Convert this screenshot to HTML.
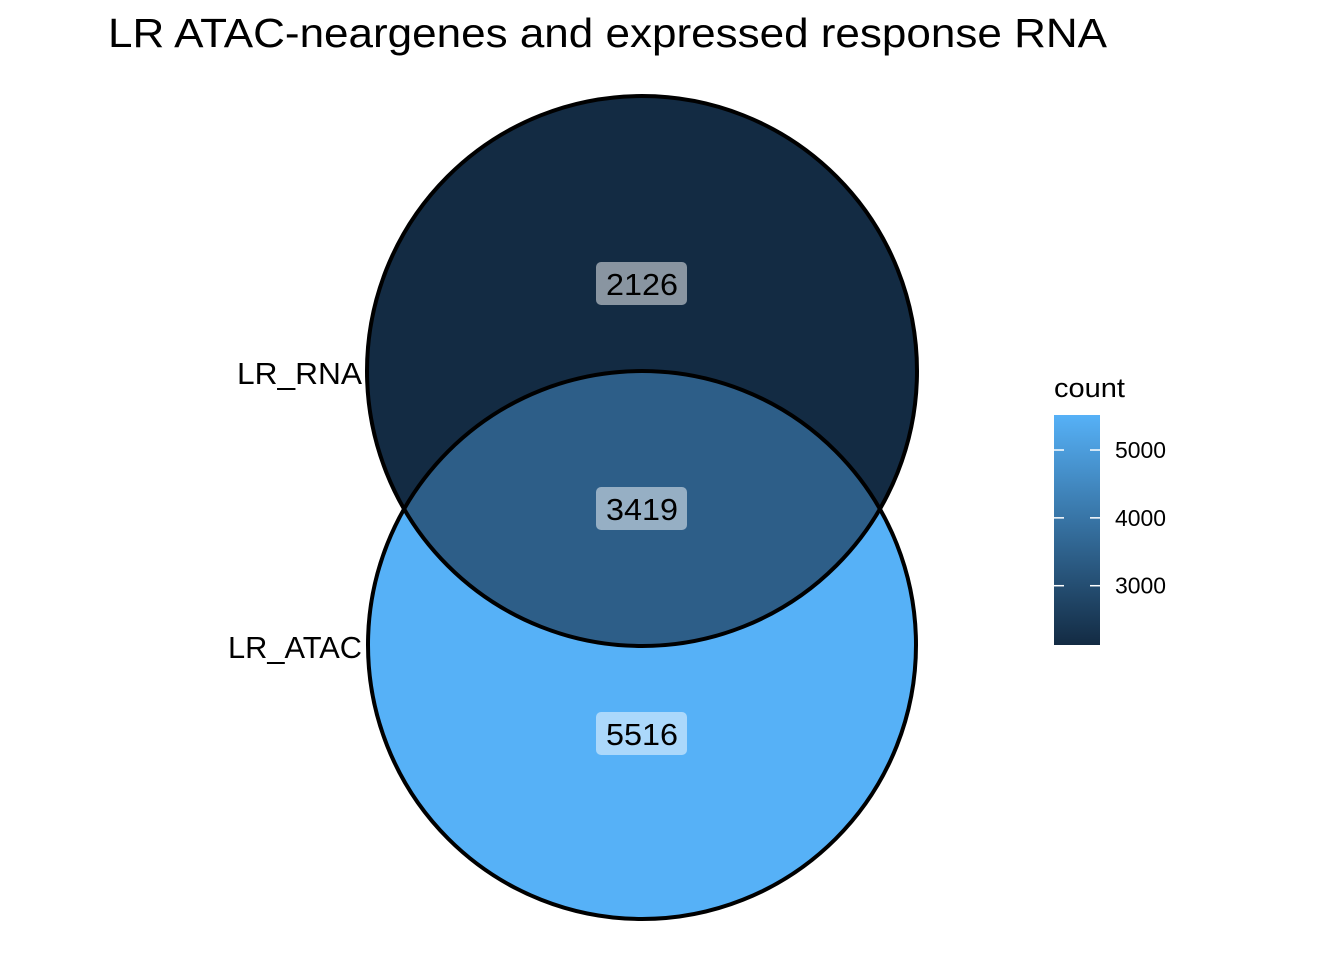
<!DOCTYPE html>
<html><head><meta charset="utf-8"><style>
body{margin:0;background:#fff}
svg{display:block;font-family:"Liberation Sans",Arial,sans-serif}
</style></head><body>
<svg id="chart" width="1344" height="960" viewBox="0 0 1344 960">
<defs>
<linearGradient id="grad" x1="0" y1="1" x2="0" y2="0">
<stop offset="0" stop-color="#132B43"/><stop offset="1" stop-color="#56B1F7"/>
</linearGradient>
</defs>
<text x="108" y="47" font-size="41" textLength="999" lengthAdjust="spacingAndGlyphs" fill="#000">LR ATAC-neargenes and expressed response RNA</text>
<g id="venn"></g>
<g id="legend">
<text x="1054" y="397" font-size="27" textLength="71" lengthAdjust="spacingAndGlyphs">count</text>
<rect x="1054" y="415" width="46" height="230" fill="url(#grad)"/>
<g id="ticks"></g>
</g>
</svg>
<script>
const sets = ['LR_RNA','LR_ATAC'];
const regionNames = ['RNA-only','both','ATAC-only'];
const counts = [2126, 3419, 5516];
const legendTicks = [3000, 4000, 5000];

const NS='http://www.w3.org/2000/svg';
const minC=Math.min(...counts), maxC=Math.max(...counts);
function col(v){const t=(v-minC)/(maxC-minC);const a=[19,43,67],b=[86,177,247];
return 'rgb('+a.map((x,i)=>Math.round(x+t*(b[i]-x))).join(',')+')';}
function mk(tag,attrs,parent){const e=document.createElementNS(NS,tag);for(const k in attrs)e.setAttribute(k,attrs[k]);parent.appendChild(e);return e;}
const venn=document.getElementById('venn');
const c1={x:642,y:371,r:275}, c2={x:642,y:645,r:274};
const defs=document.querySelector('defs');
const cp=mk('clipPath',{id:'clipTop'},defs);mk('circle',{cx:c1.x,cy:c1.y,r:c1.r},cp);
let e;
e=mk('circle',{cx:c1.x,cy:c1.y,r:c1.r,fill:col(counts[0])},venn);


e=mk('circle',{cx:c2.x,cy:c2.y,r:c2.r,fill:col(counts[2])},venn);


e=mk('circle',{cx:c2.x,cy:c2.y,r:c2.r,fill:col(counts[1]),'clip-path':'url(#clipTop)'},venn);


[c1,c2].forEach((c,i)=>{const s=mk('circle',{cx:c.x,cy:c.y,r:c.r,fill:'none',stroke:'#000','stroke-width':4},venn);

});
const labY=[284,509,734];
counts.forEach((v,i)=>{
 const r=mk('rect',{x:596,y:labY[i]-22,width:91,height:43,rx:5,fill:'rgba(255,255,255,0.5)'},venn);
 
 
 const t=mk('text',{x:642,y:labY[i]+11,'font-size':31,'text-anchor':'middle',textLength:72,lengthAdjust:'spacingAndGlyphs'},venn);t.textContent=v;
 
 
});
const setY=[384,658];
const setW=[125,134];
sets.forEach((s,i)=>{const t=mk('text',{x:237-(setW[i]-125)+ (i?-8:0)+(i?8:0),y:setY[i],'font-size':31,textLength:setW[i],lengthAdjust:'spacingAndGlyphs'},venn);t.textContent=s;
 
 });
const tg=document.getElementById('ticks');
legendTicks.forEach(v=>{const y=645-(v-minC)/(maxC-minC)*230;
 mk('line',{x1:1054,x2:1064,y1:y,y2:y,stroke:'#fff','stroke-width':1.5},tg);
 mk('line',{x1:1090,x2:1100,y1:y,y2:y,stroke:'#fff','stroke-width':1.5},tg);
 const t=mk('text',{x:1115,y:y+8,'font-size':23,textLength:51,lengthAdjust:'spacingAndGlyphs'},tg);t.textContent=v;
 
 });
</script>
</body></html>
